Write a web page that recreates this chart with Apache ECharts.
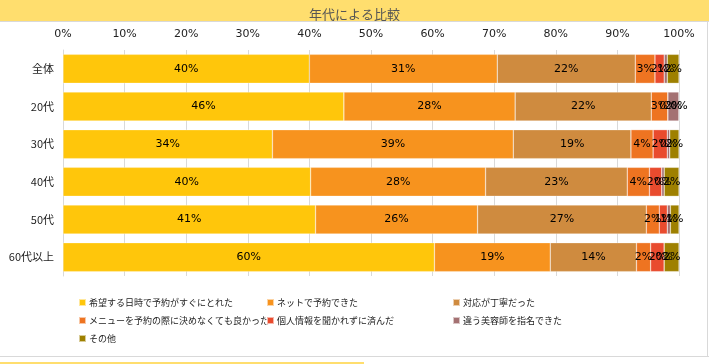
<!DOCTYPE html>
<html><head><meta charset="utf-8">
<script src="https://cdn.jsdelivr.net/npm/echarts@6/dist/echarts.min.js"></script>
<style>html,body{margin:0;padding:0;background:#fff}#c{width:709px;height:364px}</style>
</head><body><div id="c"></div>
<script>
var categories = ['全体','20代','30代','40代','50代','60代以上'];
var seriesNames = ['希望する日時で予約がすぐにとれた','ネットで予約できた','対応が丁寧だった','メニューを予約の際に決めなくても良かった','個人情報を聞かれずに済んだ','違う美容師を指名できた','その他'];
var s1 = [40.0, 45.6, 34.0, 40.2, 41.0, 60.3];
var s2 = [30.5, 27.8, 39.1, 28.4, 26.3, 18.8];
var s3 = [22.4, 22.1, 19.1, 23.0, 27.4, 14.0];
var s4 = [3.2, 2.7, 3.6, 3.6, 2.1, 2.3];
var s5 = [1.5, 0, 2.3, 2.0, 1.3, 2.2];
var s6 = [0.5, 1.8, 0.4, 0.4, 0.5, 0];
var s7 = [1.9, 0, 1.5, 2.4, 1.4, 2.4];
var xTicks = [0,10,20,30,40,50,60,70,80,90,100];
var colors = ['#FFC60B','#F7931E','#CF8B3F','#EE7421','#E94B2E','#A47172','#9E8000'];
var allData = [s1,s2,s3,s4,s5,s6,s7];

var chart = echarts.init(document.getElementById('c'));
var series = allData.map(function(d,i){
  return {
    name: seriesNames[i], type:'bar', stack:'a', data:d,
    barCategoryGap:'23%',
    itemStyle:{color:colors[i], borderColor:'rgba(255,255,255,0.6)', borderWidth:0.5},
    label:{show:true, position:'inside', color:'#000', fontSize:11, fontFamily:'DejaVu Sans, sans-serif',
      formatter:function(p){return Math.round(p.value)+'%';}}
  };
});
var legendCommon = {orient:'vertical', itemWidth:7, itemHeight:7, itemGap:9, icon:'rect',
  textStyle:{fontSize:9, color:'#222', fontFamily:'"Noto Sans CJK JP", sans-serif', padding:[0,0,0,-2]}, top:293};
chart.setOption({
  animation:false,
  color: colors,
  title:{text:'年代による比較', left:'center', top:3, textStyle:{fontSize:13, fontWeight:'normal', color:'#555', fontFamily:'"Noto Sans CJK JP", sans-serif'}},
  graphic:[
    {type:'rect', left:0, top:0, z:-1, shape:{width:709, height:21}, style:{fill:'#FFDE6E'}},
    {type:'rect', left:0, top:21, z:-1, shape:{width:709, height:1}, style:{fill:'#D9D9D9'}},
    {type:'rect', left:707, top:21, z:-1, shape:{width:1, height:336}, style:{fill:'#D9D9D9'}},
    {type:'rect', left:0, top:356, z:-1, shape:{width:709, height:1}, style:{fill:'#D9D9D9'}},
    {type:'rect', left:0, top:362, z:-1, shape:{width:364, height:2}, style:{fill:'#FFDE6E'}}
  ],
  legend:[
    Object.assign({left:73, data:[seriesNames[0],seriesNames[3],seriesNames[6]]}, legendCommon),
    Object.assign({left:261, data:[seriesNames[1],seriesNames[4]]}, legendCommon),
    Object.assign({left:447, data:[seriesNames[2],seriesNames[5]]}, legendCommon)
  ],
  grid:{left:63, right:30, top:50, bottom:88},
  xAxis:{type:'value', position:'top', min:0, max:100, interval:10,
    axisLabel:{formatter:function(v){return v+'%';}, fontSize:11, color:'#222', margin:10, fontFamily:'DejaVu Sans, sans-serif'},
    splitLine:{lineStyle:{color:'#D9D9D9'}}, axisLine:{show:false}, axisTick:{show:false}},
  yAxis:{type:'category', data:categories, inverse:true,
    axisLabel:{fontSize:11, color:'#222', margin:9, fontFamily:'"Noto Sans CJK JP", sans-serif'},
    axisLine:{lineStyle:{color:'#D9D9D9'}}, axisTick:{show:false}},
  series: series
});
</script></body></html>
